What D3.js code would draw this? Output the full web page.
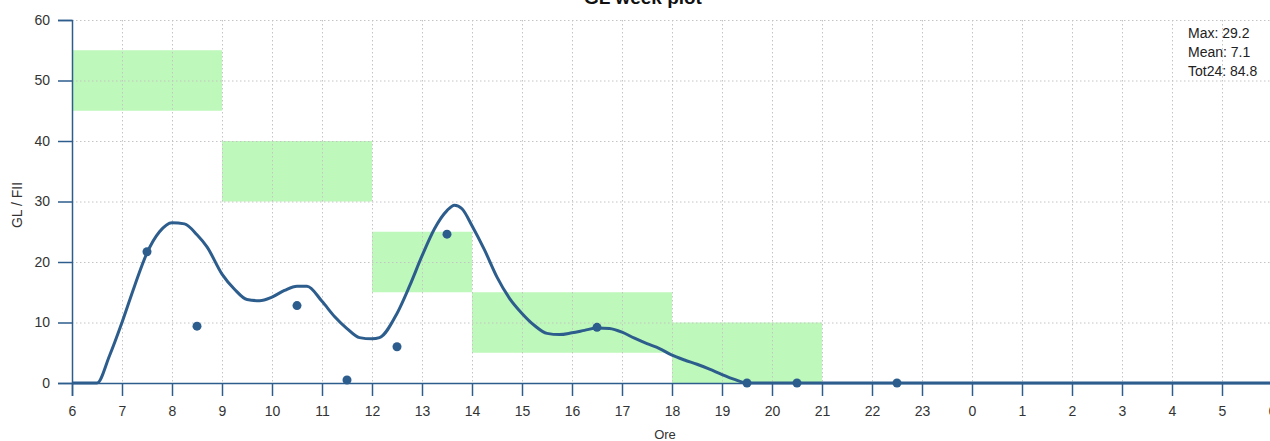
<!DOCTYPE html>
<html>
<head>
<meta charset="utf-8">
<script src="https://cdn.jsdelivr.net/npm/d3@7"></script>
<style>
  html, body { margin: 0; padding: 0; background: #fff; }
  svg { display: block; font-family: "Liberation Sans", Arial, sans-serif; }
</style>
</head>
<body>
<svg id="chart" width="1270" height="441"></svg>
<script>
// ---- data ----
const curveHours = [6, 6.5, 6.75, 7, 7.25, 7.5, 7.75, 8, 8.25, 8.5, 8.7, 9, 9.25, 9.5, 9.75, 10, 10.25, 10.5, 10.7, 11, 11.25, 11.5, 11.75, 12, 12.15, 12.5, 12.75, 13, 13.25, 13.5, 13.65, 13.8, 14, 14.25, 14.5, 14.75, 15, 15.25, 15.5, 15.75, 16, 16.25, 16.5, 16.75, 17, 17.25, 17.5, 17.75, 18, 18.25, 18.5, 18.75, 19, 19.25, 19.5, 20, 22, 24, 26, 28, 30];
const curveValues = [0, 0, 4.5, 10, 16, 21.5, 25, 26.5, 26.3, 24.5, 22.5, 18, 15.5, 13.8, 13.6, 14.2, 15.3, 16.0, 16.0, 13.5, 11, 9, 7.5, 7.3, 7.5, 11.5, 16, 21, 25.5, 28.5, 29.4, 28.8, 26, 22, 17.5, 14, 11.5, 9.5, 8.2, 8.0, 8.3, 8.7, 9.1, 9.0, 8.4, 7.4, 6.5, 5.7, 4.6, 3.8, 3.1, 2.3, 1.4, 0.6, 0, 0, 0, 0, 0, 0, 0];

const dotHours = [7.5, 8.5, 10.5, 11.5, 12.5, 13.5, 16.5, 19.5, 20.5, 22.5];
const dotValues = [21.7, 9.4, 12.8, 0.5, 6.0, 24.6, 9.2, 0, 0, 0];

const bandStart = [6, 9, 12, 14, 18];
const bandEnd   = [9, 12, 14, 18, 21];
const bandLow   = [45, 30, 15, 5, 0];
const bandHigh  = [55, 40, 25, 15, 10];

const xTickValues = d3.range(6, 31, 1);
const xTickLabels = xTickValues.map(h => String(h % 24));
const yTickValues = [0, 10, 20, 30, 40, 50, 60];

const statsLines = ["Max: 29.2", "Mean: 7.1", "Tot24: 84.8"];
const titleText = "GL week plot";
const xLabel = "Ore";
const yLabel = "GL / FII";

// ---- layout ----
const svg = d3.select("#chart");
const mLeft = 72, mRight = 1272, mTop = 20, mBottom = 383;
const lineColor = "#2d5d8d";

const x = d3.scaleLinear().domain([6, 30]).range([mLeft, mRight]);
const y = d3.scaleLinear().domain([0, 60]).range([mBottom, mTop]);

// bands
svg.append("g").selectAll("rect")
  .data(bandStart.map((s, i) => ({s, e: bandEnd[i], lo: bandLow[i], hi: bandHigh[i]})))
  .join("rect")
  .attr("x", d => x(d.s))
  .attr("width", d => x(d.e) - x(d.s))
  .attr("y", d => y(d.hi))
  .attr("height", d => y(d.lo) - y(d.hi))
  .attr("fill", "#bff8bb");

// grid
const grid = svg.append("g").attr("stroke", "#c4c4c4").attr("stroke-width", 1).attr("stroke-dasharray", "1.5,2.5");
grid.selectAll("line.v").data(xTickValues).join("line")
  .attr("class", "v")
  .attr("x1", d => x(d) + 0.5).attr("x2", d => x(d) + 0.5)
  .attr("y1", mTop).attr("y2", mBottom);
grid.selectAll("line.h").data(yTickValues).join("line")
  .attr("class", "h")
  .attr("x1", mLeft).attr("x2", mRight)
  .attr("y1", d => y(d) + 0.5).attr("y2", d => y(d) + 0.5);

// axes
const xAxis = d3.axisBottom(x).tickValues(xTickValues)
  .tickFormat((d, i) => xTickLabels[i]).tickSize(13).tickPadding(10);
const yAxis = d3.axisLeft(y).tickValues(yTickValues).tickSize(14).tickPadding(8);

const gx = svg.append("g").attr("transform", `translate(0,${mBottom})`).call(xAxis);
const gy = svg.append("g").attr("transform", `translate(${mLeft},0)`).call(yAxis);
[gx, gy].forEach(g => {
  g.select(".domain").attr("stroke", lineColor).attr("stroke-width", 1.5);
  g.selectAll(".tick line").attr("stroke", lineColor).attr("stroke-width", 1.5);
  g.selectAll(".tick text").attr("fill", "#333").style("font-size", "14px")
    .style("font-family", "'Liberation Sans', Arial, sans-serif");
});

// line
const line = d3.line()
  .x((d, i) => x(curveHours[i]))
  .y((d, i) => y(curveValues[i]))
  .curve(d3.curveMonotoneX);
svg.append("path")
  .datum(curveValues)
  .attr("d", line)
  .attr("fill", "none")
  .attr("stroke", lineColor)
  .attr("stroke-width", 3)
  .attr("stroke-linejoin", "round");

// dots
svg.append("g").selectAll("circle")
  .data(dotHours.map((h, i) => ({h, v: dotValues[i]})))
  .join("circle")
  .attr("cx", d => x(d.h))
  .attr("cy", d => y(d.v))
  .attr("r", 4.5)
  .attr("fill", lineColor);

// stats
svg.append("g").selectAll("text").data(statsLines).join("text")
  .attr("x", 1188).attr("y", (d, i) => 38 + i * 19)
  .attr("fill", "#222").style("font-size", "14px")
  .text(d => d);

// title
svg.append("text").attr("x", 643).attr("y", 4)
  .attr("text-anchor", "middle").style("font-size", "19px").style("font-weight", "bold")
  .attr("fill", "#111").text(titleText);

// axis labels
svg.append("text").attr("x", 665).attr("y", 439)
  .attr("text-anchor", "middle").style("font-size", "13px").attr("fill", "#333").text(xLabel);
svg.append("text").attr("transform", "translate(22,205) rotate(-90)")
  .attr("text-anchor", "middle").style("font-size", "14px").attr("fill", "#333").text(yLabel);
</script>
</body>
</html>
